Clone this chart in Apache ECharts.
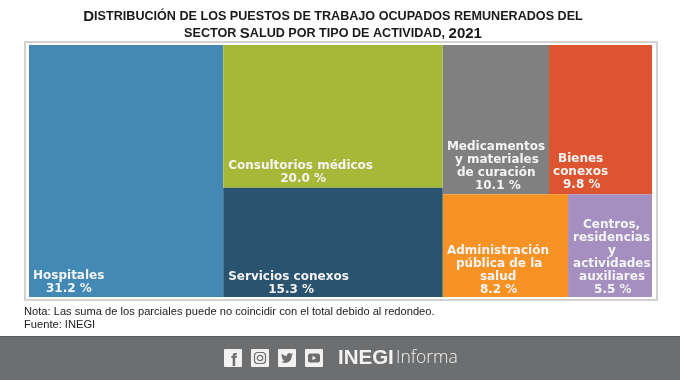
<!DOCTYPE html>
<html><head><meta charset="utf-8">
<style>html,body{margin:0;padding:0;background:#fff}#c{width:680px;height:380px}</style>
<script src="https://cdn.jsdelivr.net/npm/echarts@6/dist/echarts.min.js"></script>
</head><body><div id="c"></div>
<script>
const names = ['Hospitales','Consultorios médicos','Servicios conexos','Medicamentos y materiales de curación','Bienes conexos','Administración pública de la salud','Centros, residencias y actividades auxiliares'];
const values = [31.2,20.0,15.3,10.1,9.8,8.2,5.5];
const colors = ['#428ab5','#a7b838','#29536e','#808080','#dd5530','#f79225','#a48fc0'];
const labelLines = [
  ['Hospitales'],['Consultorios médicos'],['Servicios conexos'],
  ['Medicamentos','y materiales','de curación'],['Bienes','conexos'],
  ['Administración','pública de la','salud'],['Centros,','residencias','y','actividades','auxiliares']];
const lineIndents = [
  [0,13],[0,52],[0,40],
  [0,8,10,28],[5,0,10],
  [0,9,33,33],[10,0,35,0,6,21]];
const labelAnchors = [[4,224.5],[5,114.5],[5,82.5],[4,95.5],[4,107.5],[4,50.5],[5,24.5]];
const noteLines = ['Nota: Las suma de los parciales puede no coincidir con el total debido al redondeo.','Fuente: INEGI'];
const titleLines = ['{b|D}{s|ISTRIBUCIÓN DE LOS PUESTOS DE TRABAJO OCUPADOS REMUNERADOS DEL}','{s|SECTOR }{b|S}{s|ALUD POR TIPO DE ACTIVIDAD, }{b|2021}'];

const FONT='DejaVu Sans', FS=12, LH=13;
function leaf(i){
  const lines=[...labelLines[i], values[i].toFixed(1)+' %'];
  const rich={};
  const txt=lines.map((l,k)=>{const ind=lineIndents[i][k];
    rich['i'+ind]={padding:[0,0,0,ind],fontFamily:FONT,fontWeight:'bold',fontSize:FS,lineHeight:LH,color:'#f4f4f4'};
    return '{i'+ind+'|'+l+'}';}).join('\n');
  return {name:names[i],value:values[i],itemStyle:{color:colors[i]},
    label:{show:true,position:labelAnchors[i],padding:0,distance:0,align:'left',verticalAlign:'top',overflow:'none',formatter:txt,rich}};
}
const tree=[leaf(0),
  {name:'g1',children:[leaf(1),leaf(2)]},
  {name:'g2',children:[{name:'g3',children:[leaf(3),leaf(4)]},{name:'g4',children:[leaf(5),leaf(6)]}]}];

echarts.graphic.registerShape('bird',echarts.graphic.extendPath('M23.95 4.57 a10 10 0 0 1 -2.82 .78 a4.96 4.96 0 0 0 2.16 -2.72 c-.95 .55 -2 .96 -3.12 1.18 a4.92 4.92 0 0 0 -8.38 4.48 C7.69 8.1 4.07 6.13 1.64 3.16 a4.82 4.82 0 0 0 -.67 2.48 c0 1.71 .87 3.21 2.19 4.1 a4.9 4.9 0 0 1 -2.23 -.62 v.06 a4.92 4.92 0 0 0 3.95 4.83 a5 5 0 0 1 -2.21 .08 a4.94 4.94 0 0 0 4.6 3.42 A9.87 9.87 0 0 1 0 19.54 a14 14 0 0 0 7.56 2.21 c9.05 0 14 -7.5 14 -13.98 c0 -.21 0 -.42 -.02 -.63 a9.94 9.94 0 0 0 2.46 -2.55 z',{}));
const W='#f2f2f2', G='#6d6e70';
const icon=(x,children)=>({type:'group',x,y:349,children:[{type:'rect',shape:{x:0,y:0,width:18,height:18,r:1},style:{fill:W}},...children]});
const chart=echarts.init(document.getElementById('c'),null,{renderer:'canvas'});
chart.setOption({
  animation:false,
  title:{text:titleLines.join('\n'),left:328,textAlign:'center',top:3,itemGap:0,
    textStyle:{rich:{
      b:{fontFamily:'Liberation Sans',fontWeight:'bold',fontSize:15,lineHeight:17,color:'#1a1a1a'},
      s:{fontFamily:'Liberation Sans',fontWeight:'bold',fontSize:12.6,lineHeight:17,color:'#1a1a1a'}}}},
  graphic:[
    {type:'rect',z:-1,shape:{x:25,y:42,width:632,height:258},style:{fill:'#fff',stroke:'#d2d2d2',lineWidth:2}},
    {type:'text',x:24,y:305,style:{text:noteLines.join('\n'),font:'11.15px "Liberation Sans"',lineHeight:13.5,fill:'#222'}},
    {type:'rect',shape:{x:0,y:336,width:680,height:44},style:{fill:G}},
    {type:'rect',shape:{x:0,y:336,width:680,height:1},style:{fill:'#5a5a5c'}},
    icon(224,[{type:'text',x:7,y:3,style:{text:'f',font:'bold 18px "Liberation Sans"',fill:G}}]),
    icon(251,[{type:'rect',shape:{x:3.5,y:3.5,width:11,height:11,r:3},style:{fill:'none',stroke:G,lineWidth:1.2}},
              {type:'circle',shape:{cx:9,cy:9,r:2.7},style:{fill:'none',stroke:G,lineWidth:1.2}}]),
    icon(278,[{type:'bird',x:3,y:3,scaleX:0.5,scaleY:0.5,style:{fill:G}}]),
    icon(305,[{type:'rect',shape:{x:3,y:4.5,width:12,height:9,r:2},style:{fill:G}},
              {type:'polygon',shape:{points:[[7.5,6.8],[11,9],[7.5,11.2]]},style:{fill:W}}]),
    {type:'text',x:338,y:358,style:{text:'INEGI',font:'900 20.5px "Liberation Sans"',fill:W,verticalAlign:'middle'}},
    {type:'text',x:396,y:358,style:{text:'Informa',font:'300 17.5px "Open Sans"',fill:W,verticalAlign:'middle'}}
  ],
  series:[{type:'treemap',left:29,top:45,width:623,height:252,sort:false,roam:false,nodeClick:false,
    squareRatio:1,breadcrumb:{show:false},
    itemStyle:{borderWidth:0,gapWidth:0},
    levels:[{itemStyle:{borderWidth:0,gapWidth:0}},{itemStyle:{borderWidth:0,gapWidth:0}},{itemStyle:{borderWidth:0,gapWidth:0}},{itemStyle:{borderWidth:0,gapWidth:0}}],
    label:{show:true},upperLabel:{show:false},
    data:tree}]
});
</script></body></html>
